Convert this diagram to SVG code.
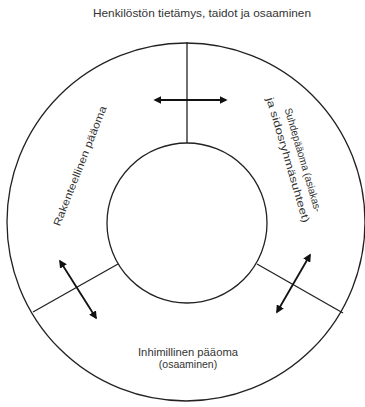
<svg xmlns="http://www.w3.org/2000/svg" width="365" height="407" viewBox="0 0 365 407">
<style>
.ln{stroke:#222;stroke-width:1.3;fill:none}
.ar{stroke:#111;stroke-width:1.8;fill:none;marker-start:url(#h);marker-end:url(#h)}
.t{font-family:"Liberation Sans",Arial,sans-serif;font-size:10.5px;fill:#333;text-anchor:middle}
</style>
<defs>
<marker id="h" viewBox="0 0 10 10" refX="8" refY="5" markerWidth="4.5" markerHeight="4.5" orient="auto-start-reverse">
<path d="M0,0 L10,5 L0,10 z" fill="#111"/>
</marker>
</defs>
<rect width="365" height="407" fill="#fff"/>
<g id="outer"><circle class="ln" cx="186" cy="222" r="179"/></g>
<g id="inner"><circle class="ln" cx="187" cy="223" r="80"/></g>
<g id="dividers">
<line class="ln" x1="187" y1="42" x2="187" y2="143"/>
<line class="ln" x1="118" y1="264" x2="33" y2="312"/>
<line class="ln" x1="257" y1="264" x2="343" y2="313"/>
</g>
<g id="connectors">
<line class="ar" x1="155" y1="100" x2="226" y2="100"/>
<line class="ar" x1="60" y1="261" x2="96" y2="318"/>
<line class="ar" x1="310" y1="255" x2="277" y2="312"/>
</g>
<g id="label-top"><text class="t" x="202" y="17" textLength="218" lengthAdjust="spacingAndGlyphs">Henkilöstön tietämys, taidot ja osaaminen</text></g>
<g id="label-bottom">
<text class="t" x="188" y="356" textLength="100" lengthAdjust="spacingAndGlyphs">Inhimillinen pääoma</text>
<text class="t" x="188" y="368">(osaaminen)</text>
</g>
<g id="label-left"><text class="t" transform="translate(80,166) rotate(-68.5)" y="3.5" textLength="128" lengthAdjust="spacingAndGlyphs">Rakenteellinen pääoma</text></g>
<g id="label-right">
<text class="t" transform="translate(303,160) rotate(73.6)" y="3.5" textLength="108" lengthAdjust="spacingAndGlyphs">Suhdepääoma (asiakas-</text>
<text class="t" transform="translate(288,160) rotate(73.6)" y="3.5" textLength="130" lengthAdjust="spacingAndGlyphs">ja sidosryhmäsuhteet)</text>
</g>
</svg>
